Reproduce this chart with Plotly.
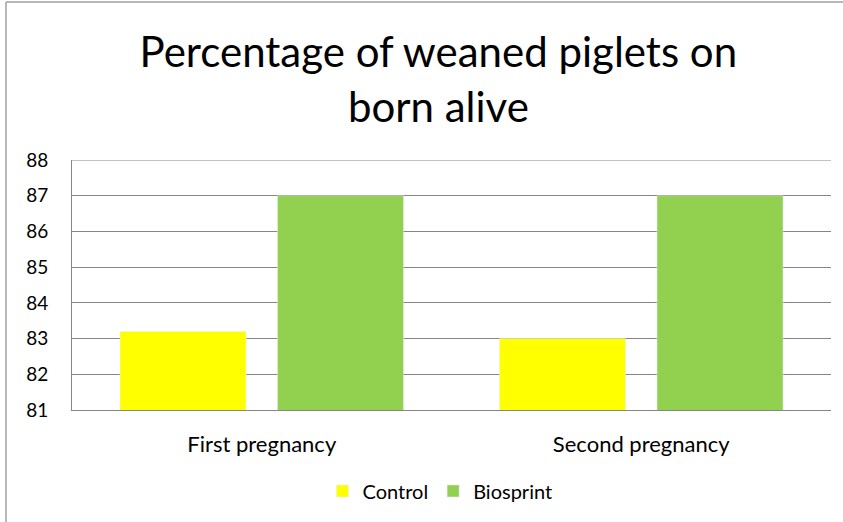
import plotly.graph_objects as go

categories = ["First pregnancy", "Second pregnancy"]
control = [83.2, 83.0]
biosprint = [87.0, 87.0]
y_ticks = [81, 82, 83, 84, 85, 86, 87, 88]

fig = go.Figure()
fig.add_trace(go.Bar(x=categories, y=control, name="Control", marker_color="#FFFF00", base=0))
fig.add_trace(go.Bar(x=categories, y=biosprint, name="Biosprint", marker_color="#92D050", base=0))

W, H = 843, 522
L, R, T, B = 72, 12, 160, 112
pw, ph = W - L - R, H - T - B

def px(x):
    return (x - L) / pw

def py(y):
    return (H - B - y) / ph

fig.update_layout(
    width=W, height=H,
    margin=dict(l=L, r=R, t=T, b=B),
    paper_bgcolor="white", plot_bgcolor="white",
    barmode="group", bargap=0.17, bargroupgap=0.2,
    font=dict(family="Lato, Open Sans, sans-serif", color="#000000"),
    title=dict(text="Percentage of weaned piglets on<br>born alive", x=0.52, xanchor="center",
               yref="container", y=1 - 67 / H, yanchor="middle",
               font=dict(size=42, family="Lato, sans-serif")),
    showlegend=True,
    legend=dict(orientation="h", x=px(440), xanchor="center", y=py(491), yanchor="middle",
                font=dict(size=20), traceorder="normal", itemwidth=30),
    xaxis=dict(showline=True, linecolor="#868686", linewidth=1, ticks="", tickfont=dict(size=22),
               ticklabelstandoff=15),
    yaxis=dict(range=[81, 88], tickvals=y_ticks, showgrid=True, gridcolor="#868686", gridwidth=1,
               showline=True, linecolor="#868686", linewidth=1, ticks="", tickfont=dict(size=19),
               zeroline=False, mirror=False, ticklabelstandoff=19),
    shapes=[
        dict(type="line", xref="paper", yref="paper", x0=px(6), x1=px(843), y0=py(2), y1=py(2),
             line=dict(color="#A0A0A0", width=1.5)),
        dict(type="line", xref="paper", yref="paper", x0=px(6), x1=px(6), y0=py(2), y1=py(522),
             line=dict(color="#A0A0A0", width=1.5)),
        dict(type="line", xref="paper", yref="y", x0=0, x1=1, y0=88, y1=88,
             line=dict(color="#868686", width=1)),
    ],
)

fig.write_html("out.html", config={"displayModeBar": False},
               post_script="document.body.style.margin='0px';")
